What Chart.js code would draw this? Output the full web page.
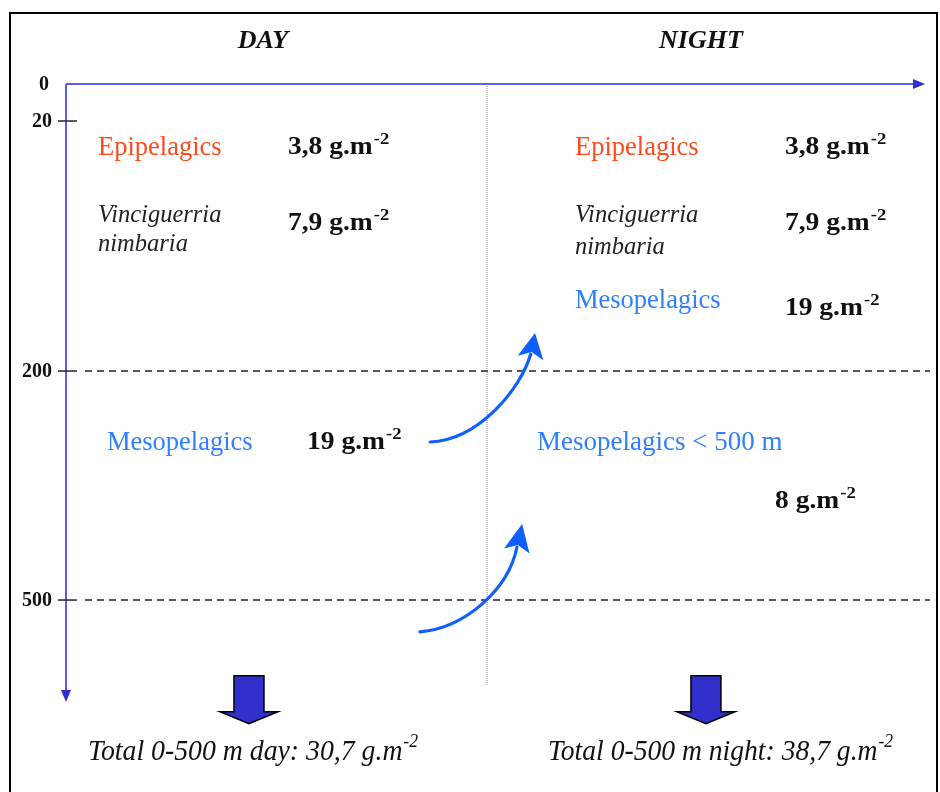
<!DOCTYPE html>
<html><head><meta charset="utf-8">
<script src="https://cdn.jsdelivr.net/npm/chart.js@4.4.0/dist/chart.umd.min.js"></script>
<style>html,body{margin:0;padding:0;background:#fff;}canvas{display:block;}</style>
</head><body>
<canvas id="c" width="940" height="792"></canvas>
<script>
// ---------------- DATA ----------------
const periods = ['DAY', 'NIGHT'];
const depthTicks = [0, 20, 200, 500];
const layerBounds = [200, 500];
const dayGroups = ['Epipelagics', 'Vinciguerria nimbaria', 'Mesopelagics'];
const dayBiomass = [3.8, 7.9, 19];
const nightGroups = ['Epipelagics', 'Vinciguerria nimbaria', 'Mesopelagics', 'Mesopelagics < 500 m'];
const nightBiomass = [3.8, 7.9, 19, 8];
const totalLayer = '0-500 m';
const totalBiomass = [30.7, 38.7];
const unitText = 'g.m';
const unitExp = '-2';

// ---------------- LAYOUT (scale units: x 0-100, y = depth) ----------------
const xMax = 100, depthMax = 634;
const depthStops = [[0, 0], [20, 0.0599], [200, 0.4644], [500, 0.835], [634, 1]];
const tickLabelGap = [17, 14, 14, 14];
const periodX = [22.93, 73.92];
const titleDepth = -19.5;
const dayPos = [
  {x: 3.73, d: 44.5, vx: 25.84, vd: 43.8},
  {x: 3.73, d: 92.5, d2: 113.6, vx: 25.84, vd: 98.5},
  {x: 4.77, d: 303.5, vx: 28.06, vd: 302.2}
];
const nightPos = [
  {x: 59.25, d: 44.5, vx: 83.7, vd: 43.8},
  {x: 59.25, d: 92.5, d2: 115.8, vx: 83.7, vd: 98.5},
  {x: 59.25, d: 154.6, vx: 83.7, vd: 159.7},
  {x: 54.83, d: 303.5, vx: 82.54, vd: 379.5}
];
const boundX = [2.21, 100.58];
const dividerX = 49.01, dividerEnd = 611.3;
const upArrows = [
  {p0: [42.4, 293.0], c1: [48.0, 290.4], c2: [52.9, 224.5], p1: [54.1, 189.9], tip: [54.6, 172.6]},
  {p0: [41.2, 541.9], c1: [46.4, 536.6], c2: [51.5, 486.9], p1: [52.5, 434.5], tip: [53.1, 400.4]}
];
const downArrowX = [21.30, 74.5];
const downArrowDepth = {top: 599.6, head: 646.7, tip: 662.4};
const totalX = [21.77, 76.19], totalDepth = 709.6, totalWidth = [330, 345];

const SERIF = "'Liberation Serif', 'Times New Roman', serif";
const colors = {
  Epipelagics: '#ff4a1c',
  Meso: '#2f80ff',
  text: '#111',
  axis: '#5d5df0',
  axisHead: '#2f2fcf',
  curve: '#0f5fff',
  fat: '#3030cc'
};

// ---------------- piecewise depth scale ----------------
class DepthScale extends Chart.LinearScale {
  static id = 'depth';
  static defaults = Chart.LinearScale.defaults;
  _frac(v) {
    const s = depthStops;
    let i = 0;
    if (v <= s[0][0]) i = 0;
    else if (v >= s[s.length - 1][0]) i = s.length - 2;
    else { while (i < s.length - 2 && v > s[i + 1][0]) i++; }
    const [d0, f0] = s[i], [d1, f1] = s[i + 1];
    return f0 + (v - d0) / (d1 - d0) * (f1 - f0);
  }
  getPixelForValue(v) { return this.top + this._frac(v) * (this.bottom - this.top); }
  getValueForPixel(p) {
    const f = (p - this.top) / (this.bottom - this.top);
    const s = depthStops;
    let i = 0;
    while (i < s.length - 2 && f > s[i + 1][1]) i++;
    const [d0, f0] = s[i], [d1, f1] = s[i + 1];
    return d0 + (f - f0) / (f1 - f0) * (d1 - d0);
  }
}
Chart.register(DepthScale);

const fmt = v => String(v).replace('.', ',');

function drawValue(c, x, y, value) {
  const size = 25, stretch = 1.1;
  c.save();
  c.translate(x, y);
  c.scale(stretch, 1);
  c.font = `bold ${size}px ${SERIF}`;
  c.fillStyle = colors.text;
  c.textAlign = 'left';
  c.textBaseline = 'alphabetic';
  const t = fmt(value) + ' ' + unitText;
  c.fillText(t, 0, 0);
  const w = c.measureText(t).width;
  c.font = `bold ${Math.round(size * 0.66)}px ${SERIF}`;
  c.fillText(unitExp, w + 1, -size * 0.42);
  c.restore();
}

function drawGroup(c, X, Y, name, pos) {
  c.textAlign = 'left';
  c.textBaseline = 'alphabetic';
  const x = X.getPixelForValue(pos.x);
  if (name.startsWith('Vinciguerria')) {
    const parts = name.split(' ');
    c.font = `italic 24.5px ${SERIF}`;
    c.fillStyle = '#222';
    c.fillText(parts[0], x, Y.getPixelForValue(pos.d));
    c.fillText(parts[1], x, Y.getPixelForValue(pos.d2));
  } else {
    c.font = `${name.includes('<') ? 27 : 26.5}px ${SERIF}`;
    c.fillStyle = name.startsWith('Epi') ? colors.Epipelagics : colors.Meso;
    c.fillText(name, x, Y.getPixelForValue(pos.d));
  }
}

const diagram = {
  id: 'diagram',
  beforeDraw(chart) {
    const c = chart.ctx;
    c.save();
    c.fillStyle = '#fff';
    c.fillRect(0, 0, chart.width, chart.height);
    c.strokeStyle = '#000';
    c.lineWidth = 2;
    c.strokeRect(10, 13, 927, 800);
    c.restore();
  },
  afterDatasetsDraw(chart) {
    const c = chart.ctx, X = chart.scales.x, Y = chart.scales.y;
    c.save();
    const ox = X.getPixelForValue(0), oy = Y.getPixelForValue(0);
    const xr = X.getPixelForValue(xMax), yb = Y.getPixelForValue(depthMax);
    // axes
    c.strokeStyle = colors.axis;
    c.lineWidth = 2;
    c.beginPath();
    c.moveTo(ox, oy); c.lineTo(xr - 10, oy);
    c.moveTo(ox, oy); c.lineTo(ox, yb - 10);
    c.stroke();
    c.fillStyle = colors.axisHead;
    c.beginPath();
    c.moveTo(xr, oy); c.lineTo(xr - 12, oy - 5); c.lineTo(xr - 12, oy + 5); c.closePath(); c.fill();
    c.beginPath();
    c.moveTo(ox, yb); c.lineTo(ox - 5, yb - 12); c.lineTo(ox + 5, yb - 12); c.closePath(); c.fill();
    // depth ticks
    c.strokeStyle = '#222';
    c.lineWidth = 1.5;
    c.fillStyle = '#111';
    c.font = `bold 20px ${SERIF}`;
    c.textAlign = 'right';
    c.textBaseline = 'middle';
    depthTicks.forEach((d, i) => {
      const y = Y.getPixelForValue(d);
      if (d !== 0) {
        c.beginPath(); c.moveTo(ox - 8, y); c.lineTo(ox + 11, y); c.stroke();
      }
      c.fillText(String(d), ox - tickLabelGap[i], y + 1);
    });
    // titles
    c.font = `italic bold 26px ${SERIF}`;
    c.textAlign = 'center';
    c.textBaseline = 'alphabetic';
    periods.forEach((p, i) => c.fillText(p, X.getPixelForValue(periodX[i]), Y.getPixelForValue(titleDepth)));
    // groups & values
    dayGroups.forEach((g, i) => {
      drawGroup(c, X, Y, g, dayPos[i]);
      drawValue(c, X.getPixelForValue(dayPos[i].vx), Y.getPixelForValue(dayPos[i].vd), dayBiomass[i]);
    });
    nightGroups.forEach((g, i) => {
      drawGroup(c, X, Y, g, nightPos[i]);
      drawValue(c, X.getPixelForValue(nightPos[i].vx), Y.getPixelForValue(nightPos[i].vd), nightBiomass[i]);
    });
    // curved migration arrows
    const P = a => [X.getPixelForValue(a[0]), Y.getPixelForValue(a[1])];
    upArrows.forEach(a => {
      const p0 = P(a.p0), c1 = P(a.c1), c2 = P(a.c2), p1 = P(a.p1), t = P(a.tip);
      c.strokeStyle = colors.curve;
      c.lineWidth = 3.2;
      c.lineCap = 'round';
      c.beginPath();
      c.moveTo(p0[0], p0[1]);
      c.bezierCurveTo(c1[0], c1[1], c2[0], c2[1], p1[0], p1[1] - 3);
      c.stroke();
      let ux = t[0] - p1[0], uy = t[1] - p1[1];
      const L = Math.hypot(ux, uy); ux /= L; uy /= L;
      const nx = -uy, ny = ux;
      c.fillStyle = colors.curve;
      c.beginPath();
      c.moveTo(t[0], t[1]);
      c.lineTo(p1[0] + nx * 13 - ux * 1, p1[1] + ny * 13 - uy * 1);
      c.lineTo(p1[0] + ux * 5, p1[1] + uy * 5);
      c.lineTo(p1[0] - nx * 13 - ux * 1, p1[1] - ny * 13 - uy * 1);
      c.closePath();
      c.fill();
    });
    // fat down arrows
    downArrowX.forEach(xv => {
      const x = X.getPixelForValue(xv);
      const yt = Y.getPixelForValue(downArrowDepth.top);
      const yh = Y.getPixelForValue(downArrowDepth.head);
      const yp = Y.getPixelForValue(downArrowDepth.tip);
      c.beginPath();
      c.moveTo(x - 15, yt); c.lineTo(x + 15, yt); c.lineTo(x + 15, yh);
      c.lineTo(x + 29, yh); c.lineTo(x, yp); c.lineTo(x - 29, yh);
      c.lineTo(x - 15, yh); c.closePath();
      c.fillStyle = colors.fat;
      c.fill();
      c.strokeStyle = '#000';
      c.lineWidth = 1.5;
      c.lineJoin = 'miter';
      c.stroke();
    });
    // totals
    ['day', 'night'].forEach((w, i) => {
      const main = `Total ${totalLayer} ${w}: ${fmt(totalBiomass[i])} ${unitText}`;
      const size = 30;
      c.font = `italic ${size}px ${SERIF}`;
      const mw = c.measureText(main).width;
      c.font = `italic ${Math.round(size * 0.62)}px ${SERIF}`;
      const ew = c.measureText(unitExp).width;
      const full = mw + ew + 1;
      const sx = totalWidth[i] / full;
      const cx = X.getPixelForValue(totalX[i]);
      const y = Y.getPixelForValue(totalDepth);
      c.save();
      c.translate(cx - totalWidth[i] / 2, y);
      c.scale(sx, 1);
      c.fillStyle = '#111';
      c.textAlign = 'left';
      c.textBaseline = 'alphabetic';
      c.font = `italic ${size}px ${SERIF}`;
      c.fillText(main, 0, 0);
      c.font = `italic ${Math.round(size * 0.62)}px ${SERIF}`;
      c.fillText(unitExp, mw + 1, -size * 0.42);
      c.restore();
    });
    c.restore();
  }
};

const datasets = layerBounds.map(d => ({
  data: [{x: boundX[0], y: d}, {x: boundX[1], y: d}],
  borderColor: '#222',
  borderWidth: 1.5,
  borderDash: [7, 5],
  pointRadius: 0,
  clip: false
}));
datasets.push({
  data: [{x: dividerX, y: 0}, {x: dividerX, y: dividerEnd}],
  borderColor: '#888',
  borderWidth: 1,
  borderDash: [1, 1],
  pointRadius: 0,
  clip: false
});

new Chart(document.getElementById('c'), {
  type: 'line',
  data: {datasets},
  options: {
    responsive: false,
    animation: false,
    devicePixelRatio: 1,
    layout: {padding: {left: 66, top: 84, right: 15, bottom: 90}},
    scales: {
      x: {type: 'linear', min: 0, max: xMax, display: false},
      y: {type: 'depth', min: 0, max: depthMax, display: false}
    },
    plugins: {legend: {display: false}, tooltip: {enabled: false}, title: {display: false}},
    elements: {line: {tension: 0}}
  },
  plugins: [diagram]
});
</script>
</body></html>
